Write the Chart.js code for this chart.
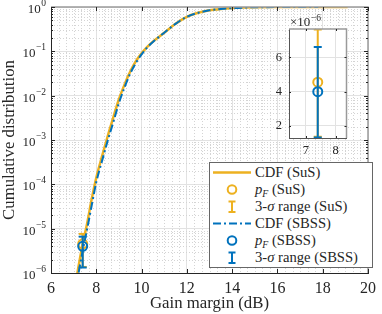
<!DOCTYPE html>
<html>
<head>
<meta charset="utf-8">
<script src="https://cdn.jsdelivr.net/npm/chart.js@4.4.0/dist/chart.umd.min.js"></script>
<style>
body { margin: 0; background: #fff; }
#wrap { position: relative; width: 382px; height: 314px; overflow: hidden; font-family: "Liberation Serif", serif; color: #262626; }
#main { position: absolute; left: 0; top: 0; }
#inset { position: absolute; left: 271px; top: 8px; }
#legend { position: absolute; left: 209px; top: 162px; width: 162px; height: 104px; border: 1px solid #666; background: #fff; font-size: 15px; }
.row { position: absolute; left: 2px; height: 17px; display: flex; align-items: center; white-space: nowrap; }
.row svg { margin-right: 3px; flex: none; }
.row sub { font-size: 0.67em; vertical-align: -3px; line-height: 0; }
</style>
</head>
<body>
<div id="wrap">
  <canvas id="main" width="382" height="314"></canvas>
  <canvas id="inset" width="82" height="152"></canvas>
  <div id="legend"></div>
</div>
<script>
// CDF curves
const gainSuS = [7.1, 7.2, 7.4, 7.6, 7.8, 8.0, 8.25, 8.5, 8.75, 9.0, 9.25, 9.5, 9.75, 10.0, 10.25, 10.5, 11.0, 11.5, 12.0, 12.5, 13.0, 13.5, 14.0, 14.5, 15.0, 16.0, 17.0, 18.0, 19.1];
const cdfSuS = [6.3e-7, 1.26e-6, 4.5e-6, 1.35e-5, 4.7e-5, 1.41e-4, 4.2e-4, 1.2e-3, 3.2e-3, 8.3e-3, 0.018, 0.035, 0.060, 0.090, 0.126, 0.166, 0.263, 0.417, 0.60, 0.74, 0.84, 0.90, 0.944, 0.97, 0.986, 0.9965, 0.9995, 1, 1];
const gainSBSS = [7.1, 7.2, 7.4, 7.6, 7.8, 8.0, 8.25, 8.5, 8.75, 9.0, 9.25, 9.5, 9.75, 10.0, 10.25, 10.5, 11.0, 11.5, 12.0, 12.5, 13.0, 13.5, 14.0, 14.5, 15.0, 16.0, 17.0, 17.8];
const cdfSBSS = [4.5e-7, 8.9e-7, 3.2e-6, 1.0e-5, 3.4e-5, 1.12e-4, 3.3e-4, 9.5e-4, 2.5e-3, 6.8e-3, 0.0155, 0.0316, 0.055, 0.085, 0.122, 0.163, 0.263, 0.417, 0.60, 0.74, 0.84, 0.90, 0.944, 0.97, 0.986, 0.9965, 0.9995, 1];

// failure probability estimates and 3-sigma ranges
const pfGain = 7.4;
const pfSuS = 4.55e-6;
const pfSBSS = 4.0e-6;
const rangeSuS = [1.37e-6, 7.62e-6];
const rangeSBSS = [1.33e-6, 6.6e-6];

// ticks
const xTicks = [6, 8, 10, 12, 14, 16, 18, 20];
const yTicks = [1e-6, 1e-5, 1e-4, 1e-3, 1e-2, 1e-1, 1];
const yTickExp = ['\u22126', '\u22125', '\u22124', '\u22123', '\u22122', '\u22121', '0'];
const xMinor = [6.333, 6.667, 7, 7.333, 7.667, 8.333, 8.667, 9, 9.333, 9.667, 10.333, 10.667, 11, 11.333, 11.667, 12.333, 12.667, 13, 13.333, 13.667, 14.333, 14.667, 15, 15.333, 15.667, 16.333, 16.667, 17, 17.333, 17.667, 18.333, 18.667, 19, 19.333, 19.667];
const yMinorMant = [2, 3, 4, 5, 6, 7, 8, 9];
const insetXTicks = [7, 8];
const insetYTicks = [2e-6, 4e-6, 6e-6];
const insetYLabels = ['2', '4', '6'];

const YELLOW = '#EDB120';
const BLUE = '#0072BD';
const AXIS = '#262626';
const FONT = 'Liberation Serif';

Chart.defaults.font.family = FONT;
Chart.defaults.color = AXIS;

const pts = (xs, ys) => xs.map((x, i) => ({ x: x, y: ys[i] }));

function pfSets() {
    return [
        { data: [{ x: pfGain, y: pfSuS }], borderColor: YELLOW, backgroundColor: 'rgba(0,0,0,0)', showLine: false, pointStyle: 'circle', pointRadius: 4.5, pointBorderWidth: 2, order: 5 },
        { data: [{ x: pfGain, y: rangeSuS[0] }, { x: pfGain, y: rangeSuS[1] }], borderColor: YELLOW, borderWidth: 2, pointStyle: 'line', pointRadius: 4, pointBorderWidth: 2, pointBorderColor: YELLOW, order: 4 },
        { data: [{ x: pfGain, y: pfSBSS }], borderColor: BLUE, backgroundColor: 'rgba(0,0,0,0)', showLine: false, pointStyle: 'circle', pointRadius: 4.5, pointBorderWidth: 2, order: 2 },
        { data: [{ x: pfGain, y: rangeSBSS[0] }, { x: pfGain, y: rangeSBSS[1] }], borderColor: BLUE, borderWidth: 2, pointStyle: 'line', pointRadius: 4, pointBorderWidth: 2, pointBorderColor: BLUE, order: 1 }
    ];
}

// minor grid, inner ticks, box and 10^n labels
const mainFrame = {
    id: 'mainFrame',
    beforeDatasetsDraw(chart) {
        const { ctx, chartArea: a, scales: { x, y } } = chart;
        ctx.save();
        ctx.strokeStyle = '#d4d4d4';
        ctx.lineWidth = 1;
        ctx.setLineDash([1, 2]);
        ctx.beginPath();
        xMinor.forEach(v => {
            const px = Math.round(x.getPixelForValue(v)) + 0.5;
            ctx.moveTo(px, a.top); ctx.lineTo(px, a.bottom);
        });
        yTicks.slice(0, -1).forEach(d => {
            yMinorMant.forEach(m => {
                const py = Math.round(y.getPixelForValue(d * m)) + 0.5;
                ctx.moveTo(a.left, py); ctx.lineTo(a.right, py);
            });
        });
        ctx.stroke();
        ctx.restore();
    },
    afterDraw(chart) {
        const { ctx, chartArea: a, scales: { x, y } } = chart;
        ctx.save();
        ctx.strokeStyle = '#9a9a9a';
        ctx.lineWidth = 1.5;
        ctx.beginPath();
        ctx.moveTo(a.left, a.top); ctx.lineTo(a.right, a.top); ctx.lineTo(a.right, a.bottom);
        ctx.stroke();
        ctx.strokeStyle = AXIS;
        ctx.lineWidth = 1;
        ctx.beginPath();
        xTicks.forEach(v => {
            const px = Math.round(x.getPixelForValue(v)) + 0.5;
            ctx.moveTo(px, a.bottom); ctx.lineTo(px, a.bottom - 4);
            ctx.moveTo(px, a.top); ctx.lineTo(px, a.top + 4);
        });
        yTicks.forEach(v => {
            const py = Math.round(y.getPixelForValue(v)) + 0.5;
            ctx.moveTo(a.left, py); ctx.lineTo(a.left + 4, py);
            ctx.moveTo(a.right, py); ctx.lineTo(a.right - 4, py);
        });
        yTicks.slice(0, -1).forEach(d => {
            yMinorMant.forEach(m => {
                const py = Math.round(y.getPixelForValue(d * m)) + 0.5;
                ctx.moveTo(a.left, py); ctx.lineTo(a.left + 2, py);
                ctx.moveTo(a.right, py); ctx.lineTo(a.right - 2, py);
            });
        });
        ctx.stroke();
        ctx.fillStyle = AXIS;
        ctx.textAlign = 'right';
        ctx.textBaseline = 'middle';
        yTicks.forEach((v, i) => {
            const py = y.getPixelForValue(v);
            ctx.font = '9.5px "' + FONT + '"';
            const ew = ctx.measureText(yTickExp[i]).width;
            ctx.fillText(yTickExp[i], a.left - 5, py - 3.5);
            ctx.font = '13px "' + FONT + '"';
            ctx.fillText('10', a.left - 5 - ew - 0.5, py + 2.5);
        });
        ctx.restore();
    }
};

new Chart(document.getElementById('main'), {
    type: 'line',
    data: {
        datasets: [
            { data: pts(gainSuS, cdfSuS), borderColor: YELLOW, borderWidth: 2.5, pointRadius: 0, cubicInterpolationMode: 'monotone', order: 6 },
            { data: pts(gainSBSS, cdfSBSS), borderColor: BLUE, borderWidth: 2, borderDash: [8, 3, 2, 3], pointRadius: 0, cubicInterpolationMode: 'monotone', order: 3 }
        ].concat(pfSets())
    },
    options: {
        responsive: false,
        devicePixelRatio: 1,
        animation: false,
        layout: { padding: { top: 7, right: 9, left: 0, bottom: 0 } },
        plugins: { legend: { display: false }, tooltip: { enabled: false } },
        scales: {
            x: {
                type: 'linear', min: 6, max: 20,
                afterBuildTicks: s => { s.ticks = xTicks.map(v => ({ value: v })); },
                afterFit: s => { s.height = 41; },
                grid: { color: '#e2e2e2', drawTicks: false },
                border: { color: AXIS },
                ticks: { font: { size: 16 }, padding: 6, maxRotation: 0, autoSkip: false },
                title: { display: true, text: 'Gain margin (dB)', font: { size: 16.8 }, padding: { top: 0, bottom: 0.5 } }
            },
            y: {
                type: 'logarithmic', min: 1e-6, max: 1,
                afterBuildTicks: s => { s.ticks = yTicks.map(v => ({ value: v })); },
                afterFit: s => { s.width = 51; },
                grid: { color: '#e2e2e2', drawTicks: false },
                border: { color: AXIS },
                ticks: { display: false },
                title: { display: true, text: 'Cumulative distribution', font: { size: 16.8 }, padding: { top: 0, bottom: 0 } }
            }
        }
    },
    plugins: [mainFrame]
});

// inset zoom on the p_F estimates
const insetFrame = {
    id: 'insetFrame',
    beforeDraw(chart) {
        const { ctx, chartArea: a } = chart;
        ctx.save();
        ctx.fillStyle = '#fff';
        ctx.fillRect(a.left, a.top, a.right - a.left, a.bottom - a.top);
        ctx.restore();
    },
    afterDraw(chart) {
        const { ctx, chartArea: a, scales: { x, y } } = chart;
        ctx.save();
        ctx.strokeStyle = '#9a9a9a';
        ctx.lineWidth = 1.5;
        ctx.beginPath();
        ctx.moveTo(a.left, a.top); ctx.lineTo(a.right, a.top); ctx.lineTo(a.right, a.bottom);
        ctx.stroke();
        ctx.strokeStyle = AXIS;
        ctx.lineWidth = 1;
        ctx.beginPath();
        insetXTicks.forEach(v => {
            const px = Math.round(x.getPixelForValue(v)) + 0.5;
            ctx.moveTo(px, a.bottom); ctx.lineTo(px, a.bottom - 2);
            ctx.moveTo(px, a.top); ctx.lineTo(px, a.top + 2);
        });
        insetYTicks.forEach(v => {
            const py = Math.round(y.getPixelForValue(v)) + 0.5;
            ctx.moveTo(a.left, py); ctx.lineTo(a.left + 2, py);
            ctx.moveTo(a.right, py); ctx.lineTo(a.right - 2, py);
        });
        ctx.stroke();
        ctx.fillStyle = AXIS;
        ctx.textAlign = 'left';
        ctx.textBaseline = 'middle';
        ctx.font = '13px "' + FONT + '"';
        const base = '\u00d710';
        const bw = ctx.measureText(base).width;
        ctx.fillText(base, a.left + 1, a.top - 6);
        ctx.font = '9.5px "' + FONT + '"';
        ctx.fillText('\u22126', a.left + 1 + bw + 0.5, a.top - 11);
        ctx.restore();
    }
};

new Chart(document.getElementById('inset'), {
    type: 'line',
    data: { datasets: pfSets() },
    options: {
        responsive: false,
        devicePixelRatio: 1,
        animation: false,
        layout: { padding: { top: 21, right: 2, left: 0, bottom: 0 } },
        plugins: { legend: { display: false }, tooltip: { enabled: false } },
        scales: {
            x: {
                type: 'linear', min: 6.44, max: 8.36,
                afterBuildTicks: s => { s.ticks = insetXTicks.map(v => ({ value: v })); },
                afterFit: s => { s.height = 22; },
                grid: { color: '#e2e2e2', drawTicks: false },
                border: { color: '#555' },
                ticks: { font: { size: 12.5 }, padding: 5, maxRotation: 0, autoSkip: false }
            },
            y: {
                type: 'linear', min: 1.3e-6, max: 7.65e-6,
                afterBuildTicks: s => { s.ticks = insetYTicks.map(v => ({ value: v })); },
                afterFit: s => { s.width = 18; },
                grid: { color: '#e2e2e2', drawTicks: false },
                border: { color: '#555' },
                ticks: { font: { size: 12.5 }, padding: 7, callback: (v, i) => insetYLabels[i] }
            }
        }
    },
    plugins: [insetFrame]
});

// legend
const legendItems = [
    { icon: 'line', color: YELLOW, label: 'CDF (SuS)' },
    { icon: 'circle', color: YELLOW, label: '<i>p</i><sub><i>F</i></sub> (SuS)' },
    { icon: 'bar', color: YELLOW, label: '3-<i>\u03c3</i> range (SuS)' },
    { icon: 'dashdot', color: BLUE, label: 'CDF (SBSS)' },
    { icon: 'circle', color: BLUE, label: '<i>p</i><sub><i>F</i></sub> (SBSS)' },
    { icon: 'bar', color: BLUE, label: '3-<i>\u03c3</i> range (SBSS)' }
];

function legendIcon(kind, c) {
    let inner = '';
    if (kind === 'line') inner = `<line x1="1" y1="8.5" x2="39" y2="8.5" stroke="${c}" stroke-width="2.5"/>`;
    if (kind === 'dashdot') inner = `<line x1="1" y1="8.5" x2="39" y2="8.5" stroke="${c}" stroke-width="2" stroke-dasharray="8 3 2 3"/>`;
    if (kind === 'circle') inner = `<circle cx="20" cy="8.5" r="4.3" fill="none" stroke="${c}" stroke-width="2"/>`;
    if (kind === 'bar') inner = `<path d="M20 3.5V14M16.5 3.5H23.5M16.5 14H23.5" fill="none" stroke="${c}" stroke-width="2"/>`;
    return `<svg width="40" height="17">${inner}</svg>`;
}

const legend = document.getElementById('legend');
legend.innerHTML = legendItems.map((it, i) =>
    `<div class="row" style="top:${1 + 17 * i}px">${legendIcon(it.icon, it.color)}<span>${it.label}</span></div>`
).join('');

// size the legend text so the longest label spans the width seen in the picture
const longest = legend.querySelectorAll('.row span')[5];
const w = longest.getBoundingClientRect().width;
if (w > 0) legend.style.fontSize = (15 * 103 / w).toFixed(2) + 'px';
</script>
</body>
</html>
